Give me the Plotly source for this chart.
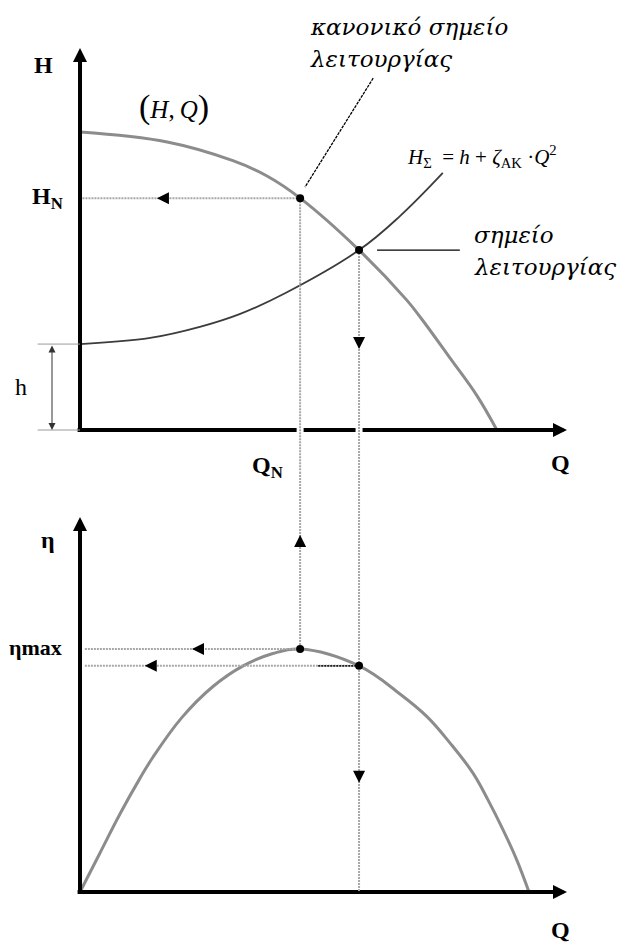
import plotly.graph_objects as go

# ---- pump characteristic H(Q) ----
pump_q = [0.00, 1.79, 3.14, 3.84, 4.52, 5.73, 6.71, 7.02, 7.60, 8.15, 8.56]
pump_h = [7.80, 7.54, 7.05, 6.65, 6.07, 4.71, 3.40, 2.90, 1.88, 0.90, 0.00]

# ---- system characteristic H_Σ = h + ζ_AK·Q² ----
system_q = [0.00, 1.44, 2.46, 3.29, 4.21, 5.73, 6.57, 7.45]
system_h = [2.25, 2.41, 2.70, 3.04, 3.58, 4.71, 5.60, 6.73]

# ---- efficiency curve η(Q) in % ----
eta_q = [0.00, 0.41, 0.82, 1.23, 1.50, 2.09, 2.73, 3.35, 3.96, 4.52,
         5.73, 6.57, 7.13, 7.60, 8.07, 8.38, 8.69, 8.97, 9.22]
eta_v = [0.0, 10.4, 20.8, 30.3, 36.0, 46.5, 54.8, 60.3, 63.6, 64.8,
         60.3, 52.8, 46.7, 39.7, 31.7, 24.5, 16.5, 8.5, 0.0]

# ---- characteristic points ----
static_head = 2.25                      # h
q_nominal, h_nominal, eta_max = 4.52, 6.07, 64.8
q_operating, h_operating, eta_operating = 5.73, 4.71, 60.3

# axis extents (arrow tips)
Q_TIP, H_TIP, ETA_TIP = 10.0, 10.0, 100.0

Q_RANGE = [-1.643, 11.335]
H_RANGE = [-1.086, 11.257]
ETA_RANGE = [-13.6, 112.13]

GUIDE = dict(color="#a8a8a8", width=2, dash="2px,1px")
SERIF = "Liberation Serif"
GREEK = "DejaVu Serif"
CURVE = dict(shape="spline", smoothing=1.1)

fig = go.Figure()

fig.add_trace(go.Scatter(x=pump_q, y=pump_h, mode="lines",
                         line=dict(color="#8c8c8c", width=3, **CURVE),
                         hoverinfo="skip", xaxis="x", yaxis="y"))
fig.add_trace(go.Scatter(x=system_q, y=system_h, mode="lines",
                         line=dict(color="#3c3c3c", width=1.8, **CURVE),
                         hoverinfo="skip", xaxis="x", yaxis="y"))
fig.add_trace(go.Scatter(x=eta_q, y=eta_v, mode="lines",
                         line=dict(color="#8c8c8c", width=3, **CURVE),
                         hoverinfo="skip", xaxis="x2", yaxis="y2"))

shapes = []


def seg(x0, y0, x1, y1, ax="", line=None):
    shapes.append(dict(type="line", xref="x" + ax, yref="y" + ax,
                       x0=x0, y0=y0, x1=x1, y1=y1, layer="above",
                       line=line or dict(color="black", width=4)))


def dot(x, y, ax=""):
    shapes.append(dict(type="circle", xref="x" + ax, yref="y" + ax,
                       xsizemode="pixel", ysizemode="pixel", xanchor=x, yanchor=y,
                       x0=-4, x1=4, y0=-4, y1=4, layer="above",
                       fillcolor="black", line=dict(color="black", width=0)))


# axes
seg(0, 0, 0, H_TIP - 0.3)
seg(-0.05, 0, Q_TIP - 0.3, 0)
seg(0, 0, 0, ETA_TIP - 3, ax="2")
seg(-0.05, 0, Q_TIP - 0.3, 0, ax="2")

# gaps where the guide lines cross the Q axis
for q in (q_nominal, q_operating):
    seg(q, -0.15, q, 0.15, line=dict(color="white", width=7))

# guide lines, upper diagram
seg(0.05, h_nominal, q_nominal, h_nominal, line=GUIDE)
seg(q_nominal, h_nominal, q_nominal, -5, line=GUIDE)
seg(q_operating, h_operating, q_operating, -5, line=GUIDE)
# guide lines, lower diagram
seg(q_nominal, 200, q_nominal, eta_max, ax="2", line=GUIDE)
seg(q_operating, 200, q_operating, 0, ax="2", line=GUIDE)
seg(0.1, eta_max, q_nominal, eta_max, ax="2", line=GUIDE)
seg(0.1, eta_operating, q_operating, eta_operating, ax="2", line=GUIDE)
seg(4.89, eta_operating, q_operating, eta_operating, ax="2",
    line=dict(color="#222222", width=1.6, dash="2px,1px"))

# leader lines for the point labels
seg(6.02, 9.21, 4.62, 6.36, line=dict(color="black", width=1.3, dash="3px,1px"))
seg(6.10, h_operating, 7.80, h_operating, line=dict(color="black", width=1.4))

# static head dimension
seg(-0.87, static_head, 0, static_head, line=dict(color="#9a9a9a", width=1))
seg(-0.87, 0, 0, 0, line=dict(color="#9a9a9a", width=1))

# characteristic points
dot(q_nominal, h_nominal)
dot(q_operating, h_operating)
dot(q_nominal, eta_max, ax="2")
dot(q_operating, eta_operating, ax="2")

annotations = []


def arrow(x, y, ax_px, ay_px, sub="", width=1.5, size=1.6):
    annotations.append(dict(x=x, y=y, xref="x" + sub, yref="y" + sub,
                            ax=ax_px, ay=ay_px, text="", showarrow=True,
                            arrowhead=2, arrowsize=size, arrowwidth=width,
                            arrowcolor="black"))


# axis arrow heads
arrow(Q_TIP, 0, -22, 0, width=4, size=0.7)
arrow(0, H_TIP, 0, 22, width=4, size=0.7)
arrow(Q_TIP, 0, -22, 0, sub="2", width=4, size=0.7)
arrow(0, ETA_TIP, 0, 22, sub="2", width=4, size=0.7)

# direction arrows on the guide lines
arrow(1.58, h_nominal, 10, 0)
arrow(q_operating, 2.12, 0, -10)
arrow(q_nominal, 95.2, 0, 10, sub="2")
arrow(2.30, eta_max, 10, 0, sub="2")
arrow(1.33, eta_operating, 10, 0, sub="2")
arrow(q_operating, 29.1, 0, -10, sub="2")

# static head double arrow
annotations.append(dict(x=-0.575, y=0, xref="x", yref="y", ax=-0.575, ay=static_head,
                        axref="x", ayref="y", text="", showarrow=True,
                        arrowhead=2, arrowside="end+start", arrowsize=1.4,
                        arrowwidth=1, arrowcolor="#333333"))


def label(x, y, text, sub="", size=24, family=SERIF, xanchor="center"):
    annotations.append(dict(x=x, y=y, xref="x" + sub, yref="y" + sub, text=text,
                            showarrow=False, xanchor=xanchor, yanchor="middle",
                            font=dict(family=family, size=size, color="black")))


label(-0.76, 9.55, "<b>H</b>")
label(-0.66, h_nominal, "<b>H<sub>N</sub></b>")
label(-1.21, 1.13, "h")
label(3.86, -0.97, "<b>Q<sub>N</sub></b>")
label(9.86, -0.86, "<b>Q</b>")
label(1.93, 8.46,
      '<span style="font-size:34px">(</span><i>H</i>,\u2009<i>Q</i>'
      '<span style="font-size:34px">)</span>', size=25)
label(6.67, 7.15,
      "<i>H</i><sub>Σ</sub>\u00a0\u00a0=\u00a0<i>h</i>\u00a0+\u00a0<i>ζ</i><sub>AK</sub>"
      "\u00a0·<i>Q</i><sup>2</sup>", size=21, xanchor="left")
label(4.68, 10.55, "<i>κανονικό σημείο</i>", size=23, family=GREEK, xanchor="left")
label(4.68, 9.71, "<i>λειτουργίας</i>", size=23, family=GREEK, xanchor="left")
label(8.05, 5.10, "<i>σημείο</i>", size=23, family=GREEK, xanchor="left")
label(8.05, 4.27, "<i>λειτουργίας</i>", size=23, family=GREEK, xanchor="left")

label(-0.66, 93.9, "<b>η</b>", sub="2")
label(-1.50, 65.3, "<b>ηmax</b>", sub="2", size=22, xanchor="left")
label(9.86, -10.1, "<b>Q</b>", sub="2")

axis_common = dict(visible=False, showgrid=False, zeroline=False, fixedrange=True)
fig.update_layout(
    width=632, height=943,
    margin=dict(l=0, r=0, t=0, b=0),
    paper_bgcolor="white", plot_bgcolor="white",
    showlegend=False,
    xaxis=dict(domain=[0, 1], range=Q_RANGE, anchor="y", **axis_common),
    yaxis=dict(domain=[0.5, 1], range=H_RANGE, anchor="x", **axis_common),
    xaxis2=dict(domain=[0, 1], range=Q_RANGE, anchor="y2", **axis_common),
    yaxis2=dict(domain=[0, 0.5], range=ETA_RANGE, anchor="x2", **axis_common),
    shapes=shapes,
    annotations=annotations,
)

fig.write_html("out.html")
